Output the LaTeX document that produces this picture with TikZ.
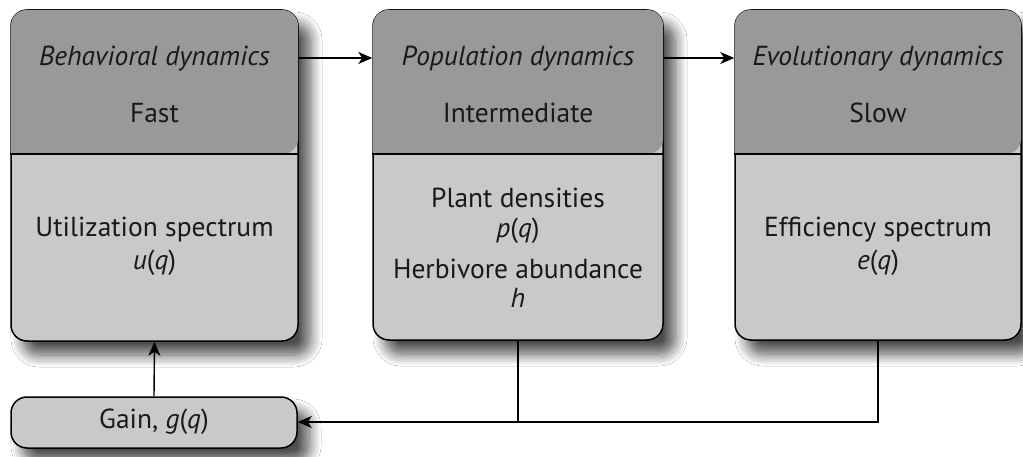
\documentclass[tikz,border=0pt]{standalone}
\usepackage{fontspec}
\setmainfont{PT Sans}
\usetikzlibrary{shadows.blur,arrows.meta}
\definecolor{hdr}{gray}{0.60}
\definecolor{body}{gray}{0.79}
\tikzset{
  box/.style={draw=black, line width=1.5pt, rounded corners=16pt, fill=body,
    blur shadow={shadow xshift=12pt, shadow yshift=-14pt, shadow blur radius=12pt, shadow blur steps=10, shadow opacity=70}},
  txt/.style={font=\fontsize{27.5}{32}\selectfont, inner sep=0pt, text=black!90},
  conn/.style={draw=black, line width=1.4pt},
  arr/.style={conn, -{Stealth[length=14pt,width=12pt,inset=4pt]}},
}
\begin{document}
\begin{tikzpicture}[x=1pt,y=-1pt]
\useasboundingbox (0,0) rectangle (1023,457);
\fill[white] (0,0) rectangle (1023,457);
% boxes
\node[box, minimum width=287pt, minimum height=331pt] (b1) at (154.5,175.5) {};
\node[box, minimum width=290pt, minimum height=330pt] (b2) at (518,175) {};
\node[box, minimum width=286pt, minimum height=330pt] (b3) at (878,175) {};
\node[box, minimum width=286pt, minimum height=51pt] (g) at (154,422.5) {};
% headers
\foreach \b in {b1,b2,b3}{
  \fill[hdr, rounded corners=15.3pt] ([xshift=0.75pt]\b.west |- 0,154) -- ([shift={(0.75pt,-0.75pt)}]\b.north west) -- ([shift={(-0.75pt,-0.75pt)}]\b.north east) -- ([xshift=-0.75pt]\b.east |- 0,154) [sharp corners] -- cycle;
  \draw[line width=1.4pt] (\b.west |- 0,154) -- (\b.east |- 0,154);
}
% texts
\node[txt] (t1a) at (154.5,59) {\itshape Behavioral dynamics};
\node[txt] (t1b) at (154.5,113) {Fast};
\node[txt] (t1c) at (154.5,230) {Utilization spectrum};
\node[txt] (t1d) at (154.5,263) {\itshape u\upshape(\itshape q\upshape)};
\node[txt] (t2a) at (518,59) {\itshape Population dynamics};
\node[txt] (t2b) at (518,113) {Intermediate};
\node[txt] (t2c) at (518,198) {Plant densities};
\node[txt] (t2d) at (518,231) {\itshape p\upshape(\itshape q\upshape)};
\node[txt] (t2e) at (518,269) {Herbivore abundance};
\node[txt] (t2f) at (518,298) {\itshape h};
\node[txt] (t3a) at (878,59) {\itshape Evolutionary dynamics};
\node[txt] (t3b) at (878,113) {Slow};
\node[txt] (t3c) at (878,230) {Efficiency spectrum};
\node[txt] (t3d) at (878,263) {\itshape e\upshape(\itshape q\upshape)};
\node[txt] (tg) at (154,422) {Gain, \itshape g\upshape(\itshape q\upshape)};
% connectors
\coordinate (j2) at (b2.south |- 0,422);
\coordinate (j3) at (b3.south |- 0,422);
\draw[arr] (b1.east |- 0,58) -- (b2.west |- 0,58);
\draw[arr] (b2.east |- 0,58) -- (b3.west |- 0,58);
\draw[arr] (g.north) -- (b1.south);
\draw[conn] (b2.south) -- (j2);
\draw[arr] (b3.south) -- (j3) -- (g.east |- j3);
\end{tikzpicture}
\end{document}
